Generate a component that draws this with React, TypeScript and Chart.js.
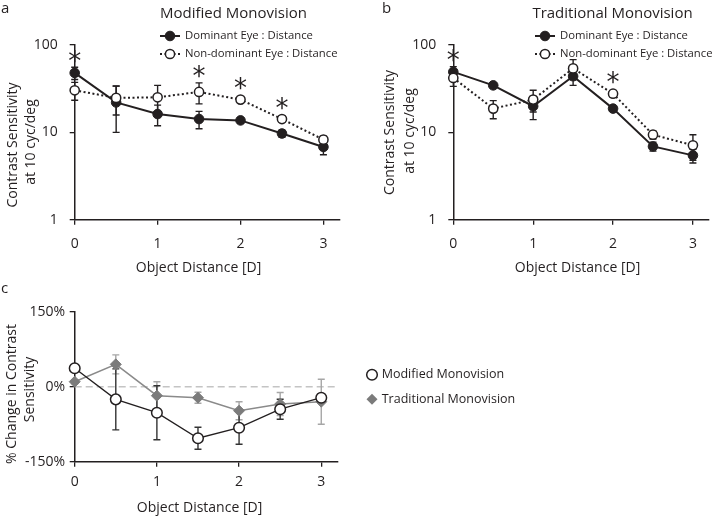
import { useEffect, useRef } from 'react';
import { Chart, registerables } from 'chart.js';

Chart.register(...registerables);

const FONT = '"Open Sans", "Noto Sans", sans-serif';
const INK = '#231f20';
const GREY_MARK = '#7b7b7b';
const GREY_LINE = '#8a8a8a';
const GREY_ERR = '#a6a6a6';

// ---------- data ----------
const distances = [0, 0.5, 1, 1.5, 2, 2.5, 3];
const distanceTicks = [0, 1, 2, 3];
const sensitivityTicks = [1, 10, 100];
const changeTicks = [-150, 0, 150];

// a: Modified Monovision
const modDominant = [47.9, 22, 16.2, 14.2, 13.7, 9.7, 6.8];
const modDominantErr = [7.7, 12, 4.3, 3.2, 1, 0.9, 1.25];
const modNonDominant = [30.3, 24.8, 25.2, 29, 23.7, 14.2, 8.25];
const modNonDominantErr = [7, 9, 9.3, 7.8, 1.5, 1, 0.8];
const modSignificant = [0, 1.5, 2, 2.5];

// b: Traditional Monovision
const tradDominant = [49.2, 34.5, 19.9, 43.9, 18.7, 6.9, 5.45];
const tradDominantErr = [7.3, 2, 5.9, 9.4, 1.2, 0.8, 1];
const tradNonDominant = [42, 18.7, 23.7, 54, 27.7, 9.4, 7.1];
const tradNonDominantErr = [8.4, 4.4, 6.6, 14, 2.5, 1, 2.3];
const tradSignificant = [0, 2];

// c: % change in contrast sensitivity
const modChange = [36.8, -25.3, -52, -103, -82, -45, -22];
const modChangeErr = [4, 61, 54, 22, 33, 20, 8];
const tradChange = [10, 44.7, -18, -22, -48, -34.7, -30];
const tradChangeErr = [4, 19, 28, 11, 18, 23, 45];

const labelsSens = {
  dominant: 'Dominant Eye : Distance',
  nonDominant: 'Non-dominant Eye : Distance',
};

// ---------- drawing helpers ----------
type Ctx = CanvasRenderingContext2D;

function drawCircle(ctx: Ctx, x: number, y: number, r: number, fill: string, stroke: string, lw: number) {
  ctx.save();
  ctx.setLineDash([]);
  ctx.beginPath();
  ctx.arc(x, y, r, 0, Math.PI * 2);
  ctx.fillStyle = fill;
  ctx.fill();
  if (lw > 0) {
    ctx.lineWidth = lw;
    ctx.strokeStyle = stroke;
    ctx.stroke();
  }
  ctx.restore();
}

function drawDiamond(ctx: Ctx, x: number, y: number, r: number, fill: string) {
  ctx.save();
  ctx.beginPath();
  ctx.moveTo(x, y - r);
  ctx.lineTo(x + r, y);
  ctx.lineTo(x, y + r);
  ctx.lineTo(x - r, y);
  ctx.closePath();
  ctx.fillStyle = fill;
  ctx.fill();
  ctx.restore();
}

interface TextItem {
  text: string;
  x: number;
  y: number;
  size: number;
  align?: CanvasTextAlign;
  baseline?: CanvasTextBaseline;
  rotate?: boolean;
}

interface ErrSeries {
  values: number[];
  errors: number[];
  color: string;
  width: number;
}

interface LegendItem {
  text: string;
  y: number;
  lineFrom?: number;
  lineTo?: number;
  dash?: number[];
  markerX: number;
  textX: number;
  marker: 'filled' | 'open' | 'diamond';
}

interface Spec {
  errors: ErrSeries[];
  markerRadius: number;
  stars?: number[];
  zeroLine?: boolean;
  texts: TextItem[];
  legend: LegendItem[];
  legendSize: number;
  openRadius: number;
}

function drawText(ctx: Ctx, t: TextItem) {
  ctx.save();
  ctx.fillStyle = INK;
  ctx.font = `${t.size}px ${FONT}`;
  ctx.textAlign = t.align ?? 'center';
  ctx.textBaseline = t.baseline ?? 'middle';
  ctx.translate(t.x, t.y);
  if (t.rotate) ctx.rotate(-Math.PI / 2);
  ctx.fillText(t.text, 0, 0);
  ctx.restore();
}

function decorPlugin(spec: Spec) {
  return {
    id: 'decor',
    beforeDatasetsDraw(chart: any) {
      const ctx: Ctx = chart.ctx;
      const xs = chart.scales.x;
      const ys = chart.scales.y;
      const area = chart.chartArea;
      if (spec.zeroLine) {
        ctx.save();
        ctx.strokeStyle = '#c4c4c4';
        ctx.lineWidth = 1.5;
        ctx.setLineDash([7, 4]);
        const y0 = ys.getPixelForValue(0);
        ctx.beginPath();
        ctx.moveTo(area.left, y0);
        ctx.lineTo(area.right, y0);
        ctx.stroke();
        ctx.restore();
      }
      spec.errors.forEach((s) => {
        ctx.save();
        ctx.strokeStyle = s.color;
        ctx.lineWidth = s.width;
        s.values.forEach((v, i) => {
          const e = s.errors[i];
          const px = xs.getPixelForValue(distances[i]);
          const hi = ys.getPixelForValue(v + e);
          const lo = ys.getPixelForValue(v - e);
          ctx.beginPath();
          ctx.moveTo(px, hi);
          ctx.lineTo(px, lo);
          ctx.moveTo(px - 3.5, hi);
          ctx.lineTo(px + 3.5, hi);
          ctx.moveTo(px - 3.5, lo);
          ctx.lineTo(px + 3.5, lo);
          ctx.stroke();
        });
        ctx.restore();
      });
    },
    afterDatasetsDraw(chart: any) {
      const ctx: Ctx = chart.ctx;
      const xs = chart.scales.x;
      const ys = chart.scales.y;
      (spec.stars ?? []).forEach((d) => {
        const i = distances.indexOf(d);
        let top = Infinity;
        spec.errors.forEach((s) => {
          top = Math.min(top, ys.getPixelForValue(s.values[i] + s.errors[i]), ys.getPixelForValue(s.values[i]) - spec.markerRadius);
        });
        const px = xs.getPixelForValue(d);
        const cy = top - 11;
        ctx.save();
        ctx.fillStyle = INK;
        ctx.font = `26px "DejaVu Sans", sans-serif`;
        ctx.textAlign = 'center';
        ctx.textBaseline = 'alphabetic';
        const m = ctx.measureText('*');
        ctx.fillText('*', px, cy + (m.actualBoundingBoxAscent - m.actualBoundingBoxDescent) / 2);
        ctx.restore();
      });
      spec.texts.forEach((t) => drawText(ctx, t));
      spec.legend.forEach((l) => {
        if (l.lineFrom !== undefined && l.lineTo !== undefined) {
          ctx.save();
          ctx.strokeStyle = INK;
          ctx.lineWidth = 2;
          ctx.setLineDash(l.dash ?? []);
          ctx.beginPath();
          ctx.moveTo(l.lineFrom, l.y);
          ctx.lineTo(l.lineTo, l.y);
          ctx.stroke();
          ctx.restore();
        }
        if (l.marker === 'filled') drawCircle(ctx, l.markerX, l.y, spec.markerRadius, INK, INK, 1);
        else if (l.marker === 'open') drawCircle(ctx, l.markerX, l.y, spec.openRadius, '#fff', INK, 1.5);
        else drawDiamond(ctx, l.markerX, l.y, 5.5, GREY_MARK);
        drawText(ctx, { text: l.text, x: l.textX, y: l.y, size: spec.legendSize, align: 'left' });
      });
    },
  };
}

const pts = (vals: number[]) => distances.map((d, i) => ({ x: d, y: vals[i] }));

function xScale(height: number, pad: number) {
  return {
    type: 'linear',
    min: 0,
    max: 3.2,
    afterBuildTicks: (s: any) => {
      s.ticks = distanceTicks.map((v) => ({ value: v }));
    },
    afterFit: (s: any) => {
      s.height = height;
    },
    grid: { drawOnChartArea: false, drawTicks: true, tickLength: 5, color: INK, lineWidth: 1.3 },
    border: { display: true, color: INK, width: 1.5 },
    ticks: {
      color: INK,
      font: { family: FONT, size: 14 },
      padding: pad,
      maxRotation: 0,
      autoSkip: false,
      callback: (v: any) => String(v),
    },
  };
}

function sensitivityConfig(opts: {
  dominant: number[];
  dominantErr: number[];
  nonDominant: number[];
  nonDominantErr: number[];
  stars: number[];
  yAxisWidth: number;
  rightPad: number;
  texts: TextItem[];
  legendLineFrom: number;
}) {
  const spec: Spec = {
    errors: [
      { values: opts.dominant, errors: opts.dominantErr, color: INK, width: 1.4 },
      { values: opts.nonDominant, errors: opts.nonDominantErr, color: INK, width: 1.4 },
    ],
    markerRadius: 4.8,
    openRadius: 4.6,
    stars: opts.stars,
    texts: opts.texts,
    legendSize: 11.3,
    legend: [
      {
        text: labelsSens.dominant,
        y: 36,
        lineFrom: opts.legendLineFrom,
        lineTo: opts.legendLineFrom + 20,
        markerX: opts.legendLineFrom + 10,
        textX: opts.legendLineFrom + 25,
        marker: 'filled',
      },
      {
        text: labelsSens.nonDominant,
        y: 54,
        lineFrom: opts.legendLineFrom,
        lineTo: opts.legendLineFrom + 20,
        dash: [2, 2.5],
        markerX: opts.legendLineFrom + 10,
        textX: opts.legendLineFrom + 25,
        marker: 'open',
      },
    ],
  };
  return {
    type: 'line',
    data: {
      datasets: [
        {
          label: labelsSens.nonDominant,
          data: pts(opts.nonDominant),
          borderColor: INK,
          borderWidth: 2,
          borderDash: [2, 2.5],
          pointStyle: 'circle',
          pointRadius: 4.6,
          pointBackgroundColor: '#fff',
          pointBorderColor: INK,
          pointBorderWidth: 1.5,
          clip: false,
        },
        {
          label: labelsSens.dominant,
          data: pts(opts.dominant),
          borderColor: INK,
          borderWidth: 2,
          pointStyle: 'circle',
          pointRadius: 4.8,
          pointBackgroundColor: INK,
          pointBorderColor: INK,
          pointBorderWidth: 1,
          clip: false,
        },
      ],
    },
    options: {
      responsive: false,
      animation: false,
      events: [],
      layout: { padding: { left: 0, top: 45, right: opts.rightPad, bottom: 0 } },
      plugins: { legend: { display: false }, tooltip: { enabled: false } },
      scales: {
        x: xScale(70.3, 11),
        y: {
          type: 'logarithmic',
          min: 1,
          max: 100,
          afterBuildTicks: (s: any) => {
            s.ticks = sensitivityTicks.map((v) => ({ value: v }));
          },
          afterFit: (s: any) => {
            s.width = opts.yAxisWidth;
          },
          grid: { drawOnChartArea: false, drawTicks: true, tickLength: 5, color: INK, lineWidth: 1.3 },
          border: { display: true, color: INK, width: 1.5 },
          ticks: {
            color: INK,
            font: { family: FONT, size: 14 },
            padding: 12,
            callback: (v: any) => String(v),
          },
        },
      },
    },
    plugins: [decorPlugin(spec)],
  };
}

function configA() {
  return sensitivityConfig({
    dominant: modDominant,
    dominantErr: modDominantErr,
    nonDominant: modNonDominant,
    nonDominantErr: modNonDominantErr,
    stars: modSignificant,
    yAxisWidth: 74.7,
    rightPad: 20,
    legendLineFrom: 160,
    texts: [
      { text: 'a', x: 1, y: 13.3, size: 15, align: 'left', baseline: 'alphabetic' },
      { text: 'Modified Monovision', x: 233.5, y: 14, size: 15 },
      { text: 'Object Distance [D]', x: 198.5, y: 268, size: 14 },
      { text: 'Contrast Sensitivity', x: 13, y: 145, size: 14, rotate: true },
      { text: 'at 10 cyc/deg', x: 31, y: 142, size: 14, rotate: true },
    ],
  });
}

function configB() {
  return sensitivityConfig({
    dominant: tradDominant,
    dominantErr: tradDominantErr,
    nonDominant: tradNonDominant,
    nonDominantErr: tradNonDominantErr,
    stars: tradSignificant,
    yAxisWidth: 93.3,
    rightPad: 0,
    legendLineFrom: 175,
    texts: [
      { text: 'b', x: 22, y: 13.3, size: 15, align: 'left', baseline: 'alphabetic' },
      { text: 'Traditional Monovision', x: 252.5, y: 14, size: 15 },
      { text: 'Object Distance [D]', x: 217.5, y: 268, size: 14 },
      { text: 'Contrast Sensitivity', x: 30, y: 132.5, size: 14, rotate: true },
      { text: 'at 10 cyc/deg', x: 50, y: 131, size: 14, rotate: true },
    ],
  });
}

function configC() {
  const spec: Spec = {
    errors: [
      { values: tradChange, errors: tradChangeErr, color: GREY_ERR, width: 1.4 },
      { values: modChange, errors: modChangeErr, color: '#333', width: 1.4 },
    ],
    markerRadius: 5.3,
    openRadius: 5.3,
    zeroLine: true,
    texts: [
      { text: 'c', x: 1, y: 18, size: 15, align: 'left', baseline: 'alphabetic' },
      { text: 'Object Distance [D]', x: 199.5, y: 233, size: 14 },
      { text: '% Change in Contrast', x: 12, y: 119, size: 14, rotate: true },
      { text: 'Sensitivity', x: 30, y: 114.5, size: 14, rotate: true },
    ],
    legendSize: 12.5,
    legend: [
      { text: 'Modified Monovision', y: 99.7, markerX: 372, textX: 381.7, marker: 'open' },
      { text: 'Traditional Monovision', y: 124.3, markerX: 372, textX: 381.7, marker: 'diamond' },
    ],
  };
  return {
    type: 'line',
    data: {
      datasets: [
        {
          label: 'Modified Monovision',
          data: pts(modChange),
          borderColor: INK,
          borderWidth: 1.3,
          pointStyle: 'circle',
          pointRadius: 5.3,
          pointBackgroundColor: '#fff',
          pointBorderColor: INK,
          pointBorderWidth: 1.5,
          clip: false,
        },
        {
          label: 'Traditional Monovision',
          data: pts(tradChange),
          borderColor: GREY_LINE,
          borderWidth: 1.5,
          pointStyle: 'rectRot',
          pointRadius: 5.5,
          pointBackgroundColor: GREY_MARK,
          pointBorderColor: GREY_MARK,
          pointBorderWidth: 1,
          clip: false,
        },
      ],
    },
    options: {
      responsive: false,
      animation: false,
      events: [],
      layout: { padding: { left: 0, top: 36.7, right: 715 - 337.7, bottom: 0 } },
      plugins: { legend: { display: false }, tooltip: { enabled: false } },
      scales: {
        x: xScale(54.3, 7),
        y: {
          type: 'linear',
          min: -150,
          max: 150,
          afterBuildTicks: (s: any) => {
            s.ticks = changeTicks.map((v) => ({ value: v }));
          },
          afterFit: (s: any) => {
            s.width = 74.7;
          },
          grid: { drawOnChartArea: false, drawTicks: true, tickLength: 5, color: INK, lineWidth: 1.3 },
          border: { display: true, color: INK, width: 1.5 },
          ticks: {
            color: INK,
            font: { family: FONT, size: 14 },
            padding: 4.7,
            callback: (v: any) => `${v}%`,
          },
        },
      },
    },
    plugins: [decorPlugin(spec)],
  };
}

function Panel(props: { left: number; top: number; width: number; height: number; build: () => any }) {
  const ref = useRef<HTMLCanvasElement>(null);
  useEffect(() => {
    const chart = new Chart(ref.current as HTMLCanvasElement, props.build());
    return () => chart.destroy();
  }, []);
  return (
    <canvas
      ref={ref}
      width={props.width}
      height={props.height}
      style={{ position: 'absolute', left: props.left, top: props.top, width: props.width, height: props.height }}
    />
  );
}

export default function App() {
  return (
    <div style={{ position: 'absolute', left: 0, top: 0, width: 715, height: 516, background: '#fff', overflow: 'hidden' }}>
      <Panel left={0} top={0} width={360} height={290} build={configA} />
      <Panel left={360} top={0} width={355} height={290} build={configB} />
      <Panel left={0} top={275} width={715} height={241} build={configC} />
    </div>
  );
}
